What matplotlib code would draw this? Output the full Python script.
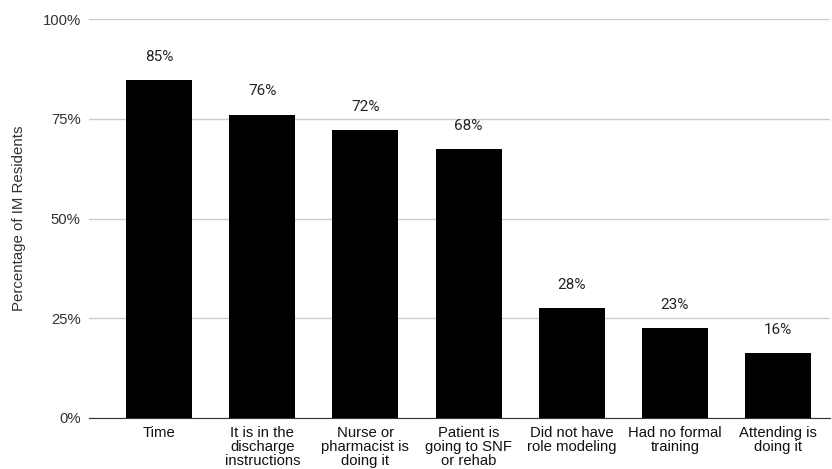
import matplotlib
matplotlib.use("Agg")
import matplotlib.pyplot as plt
from matplotlib.ticker import FuncFormatter

categories = ["Time", "It is in the\ndischarge\ninstructions", "Nurse or\npharmacist is\ndoing it",
              "Patient is\ngoing to SNF\nor rehab", "Did not have\nrole modeling", "Had no formal\ntraining",
              "Attending is\ndoing it"]
values = [84.7, 76.1, 72.1, 67.4, 27.5, 22.5, 16.2]
labels = ["85%", "76%", "72%", "68%", "28%", "23%", "16%"]
yticks = [0, 25, 50, 75, 100]

fig = plt.figure(figsize=(8.32, 4.69), dpi=100)
ax = fig.add_axes([0.107, 0.109, 0.89, 0.85])
x = list(range(len(categories)))
ax.bar(x, values, width=0.64, color="black", zorder=3)
for xi, v, lab in zip(x, values, labels):
    ax.annotate(lab, (xi, v), xytext=(0, 17), textcoords="offset points", ha="center", va="center",
                fontsize=11, family="Roboto", color="#222222")
ax.set_xlim(-0.68, 6.5)
ax.set_ylim(0, 100)
ax.set_yticks(yticks)
ax.yaxis.set_major_formatter(FuncFormatter(lambda v, p: f"{int(v)}%"))
ax.set_xticks(x)
ax.set_xticklabels(categories, family="Liberation Sans", fontsize=10.7, linespacing=0.98, color="#111111")
for t in ax.get_yticklabels():
    t.set_family("Liberation Sans"); t.set_fontsize(10.7); t.set_color("#333333")
ax.grid(axis="y", color="#cccccc", linewidth=1, zorder=0)
ax.tick_params(axis="y", length=0, pad=6)
ax.tick_params(axis="x", length=0, pad=6)
for s in ["top", "right", "left"]:
    ax.spines[s].set_visible(False)
ax.spines["bottom"].set_color("#333333")
ax.spines["bottom"].set_zorder(4)
ax.set_ylabel("Percentage of IM Residents", family="Liberation Sans", fontsize=10.8, color="#333333", labelpad=12)
fig.savefig("out.png", dpi=100)
